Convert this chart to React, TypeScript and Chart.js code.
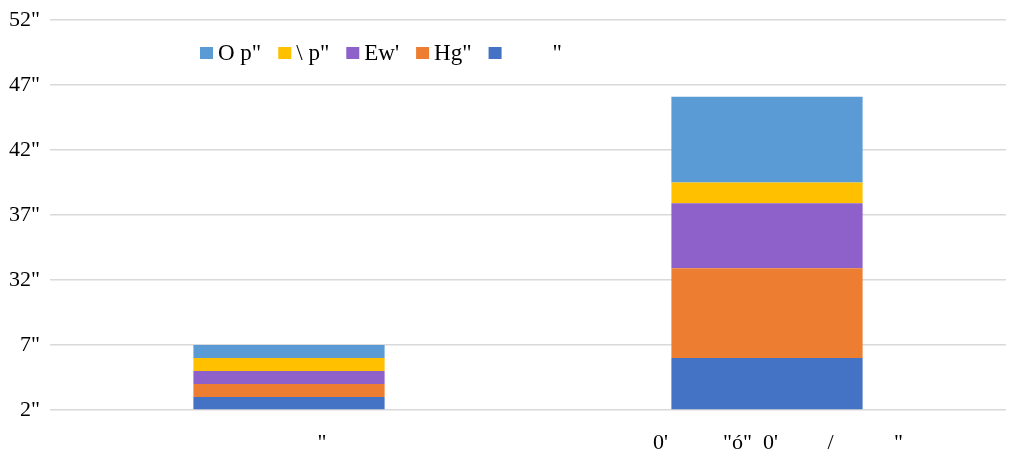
import React, { useEffect, useRef } from "react";
import { Chart, registerables } from "chart.js";

Chart.register(...registerables);

const categories = ["            \"", "     0'          \"ó\"  0'         /           \" "];
const seriesNames = ["        \"", "Hg\"", "Ew'", "\\ p\"", "O p\""];
const seriesColors = ["#4472C4", "#ED7D31", "#8E60CA", "#FFC000", "#5B9BD5"];
const blueValues = [1, 4];
const orangeValues = [1, 6.9];
const purpleValues = [1, 5];
const yellowValues = [1, 1.6];
const lightBlueValues = [1, 6.6];
const yTickLabels = ["2\"", "7\"", "32\"", "37\"", "42\"", "47\"", "52\""];

const FONT = "'Liberation Serif', 'Times New Roman', serif";

const legendPlugin = {
  id: "customLegend",
  afterDraw(chart: any) {
    const ctx = chart.ctx;
    ctx.save();
    ctx.font = `23px ${FONT}`;
    ctx.textBaseline = "middle";
    ctx.textAlign = "left";
    let x = 200;
    const y = 53;
    const ds = chart.data.datasets;
    for (let i = ds.length - 1; i >= 0; i--) {
      ctx.fillStyle = ds[i].backgroundColor;
      ctx.fillRect(x, y - 6, 13, 12);
      x += 18;
      ctx.fillStyle = "#000";
      ctx.fillText(ds[i].label, x, y + 1);
      x += ctx.measureText(ds[i].label).width + 17;
    }
    ctx.restore();
  },
};

export default function App() {
  const ref = useRef<HTMLCanvasElement | null>(null);
  useEffect(() => {
    if (!ref.current) return;
    const values = [blueValues, orangeValues, purpleValues, yellowValues, lightBlueValues];
    const chart = new Chart(ref.current, {
      type: "bar",
      data: {
        labels: categories,
        datasets: values.map((v, i) => ({
          label: seriesNames[i],
          data: v,
          backgroundColor: seriesColors[i],
          borderWidth: 0,
          categoryPercentage: 1,
          barPercentage: 0.4,
        })),
      },
      options: {
        animation: false,
        responsive: false,
        maintainAspectRatio: false,
        layout: { padding: { top: 20, right: 4, left: 0, bottom: 0 } },
        plugins: { legend: { display: false }, tooltip: { enabled: false } },
        scales: {
          x: {
            stacked: true,
            grid: { display: false },
            border: { display: false },
            ticks: { color: "#000", font: { family: FONT, size: 22 }, padding: 12, maxRotation: 0, autoSkip: false },
            afterFit: (s: any) => { s.height = 40; s.paddingLeft = 0; s.paddingRight = 0; },
          },
          y: {
            stacked: true,
            min: 0,
            max: 30,
            ticks: {
              stepSize: 5,
              color: "#000",
              font: { family: FONT, size: 22 },
              padding: 10,
              callback: (_v: any, i: number) => yTickLabels[i],
            },
            grid: { color: "#D9D9D9", lineWidth: 1.5, drawTicks: false },
            border: { display: false },
            afterFit: (s: any) => { s.width = 50; s.paddingTop = 0; s.paddingBottom = 0; },
          },
        },
      },
      plugins: [legendPlugin],
    });
    return () => chart.destroy();
  }, []);
  return (
    <div style={{ position: "fixed", left: 0, top: 0, width: 1010, height: 450, background: "#fff" }}>
      <canvas ref={ref} width={1010} height={450} />
    </div>
  );
}
